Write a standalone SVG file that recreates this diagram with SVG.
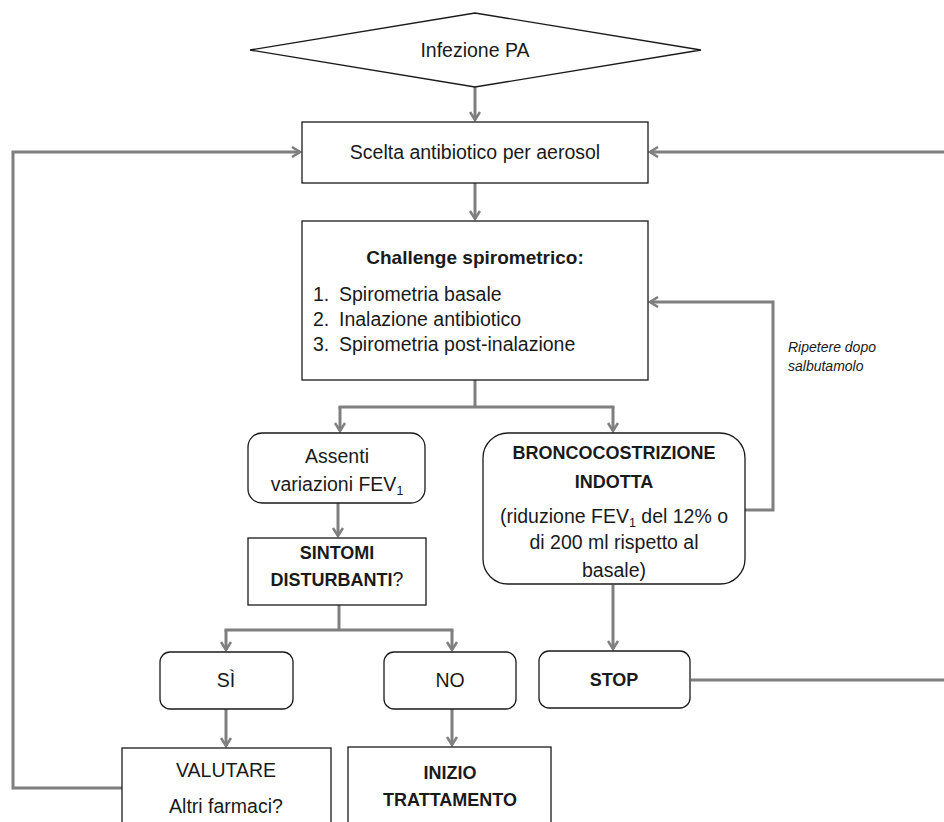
<svg xmlns="http://www.w3.org/2000/svg" width="944" height="822" viewBox="0 0 944 822">
<defs>
<marker id="arr" viewBox="0 0 12 12" refX="10" refY="6" markerWidth="12" markerHeight="12" markerUnits="userSpaceOnUse" orient="auto">
<path d="M2,1 L10,6 L2,11" fill="none" stroke="#7f7f7f" stroke-width="2.5"/>
</marker>
<style>
.box{fill:#fff;stroke:#1a1a1a;stroke-width:1.3}
.con{fill:none;stroke:#7f7f7f;stroke-width:3}
.t{font-family:"Liberation Sans",Arial,sans-serif;font-size:19.5px;fill:#1a1a1a;text-anchor:middle}
.b{font-weight:bold;font-size:18px}
.bb{font-weight:bold;font-size:19px}
.l{text-anchor:start}
.sm{font-family:"Liberation Sans",Arial,sans-serif;font-size:14px;font-style:italic;fill:#1a1a1a}
.sub{font-size:12.5px}
</style>
</defs>
<rect width="944" height="822" fill="#fff"/>
<g id="connectors">
<path class="con" d="M475,87 L475,120" marker-end="url(#arr)"/>
<path class="con" d="M475,183 L475,219" marker-end="url(#arr)"/>
<path class="con" d="M475,380 L475,407"/>
<path class="con" d="M340,407 L340,431" marker-end="url(#arr)"/>
<path class="con" d="M338.5,407 L614.5,407"/>
<path class="con" d="M613,407 L613,431" marker-end="url(#arr)"/>
<path class="con" d="M338,503 L338,536" marker-end="url(#arr)"/>
<path class="con" d="M339,605 L339,630"/>
<path class="con" d="M224.5,630 L453.5,630"/>
<path class="con" d="M226,630 L226,650" marker-end="url(#arr)"/>
<path class="con" d="M452,630 L452,650" marker-end="url(#arr)"/>
<path class="con" d="M226,709 L226,746" marker-end="url(#arr)"/>
<path class="con" d="M452,709 L452,745" marker-end="url(#arr)"/>
<path class="con" d="M613,585 L613,649" marker-end="url(#arr)"/>
<path class="con" d="M745,510 L773,510 L773,302 L650,302" marker-end="url(#arr)"/>
<path class="con" d="M691,680 L960,680 L960,152 L650,152" marker-end="url(#arr)"/>
<path class="con" d="M122,788 L13,788 L13,152 L300,152" marker-end="url(#arr)"/>
<text class="sm" x="788" y="352">Ripetere dopo</text>
<text class="sm" x="788" y="371">salbutamolo</text>
</g>
<g id="infezione">
<polygon class="box" points="250,50 475,13 701,50 475,87"/>
<text class="t" x="475" y="57">Infezione PA</text>
</g>
<g id="scelta">
<rect class="box" x="302" y="122" width="346" height="61"/>
<text class="t" x="475" y="159">Scelta antibiotico per aerosol</text>
</g>
<g id="challenge">
<rect class="box" x="302" y="221" width="346" height="159"/>
<text class="t bb" x="475" y="264">Challenge spirometrico:</text>
<text class="t l" x="313" y="301">1.</text><text class="t l" x="339" y="301">Spirometria basale</text>
<text class="t l" x="313" y="326">2.</text><text class="t l" x="339" y="326">Inalazione antibiotico</text>
<text class="t l" x="313" y="351">3.</text><text class="t l" x="339" y="351">Spirometria post-inalazione</text>
</g>
<g id="assenti">
<rect class="box" x="248" y="433" width="177" height="70" rx="14"/>
<text class="t" x="337" y="463">Assenti</text>
<text class="t" x="337" y="491">variazioni FEV<tspan class="sub" dy="4">1</tspan></text>
</g>
<g id="sintomi">
<rect class="box" x="248" y="538" width="178" height="67"/>
<text class="t b" x="337" y="559">SINTOMI</text>
<text class="t" x="337" y="586"><tspan class="b">DISTURBANTI</tspan>?</text>
</g>
<g id="bronco">
<rect class="box" x="483" y="433" width="262" height="151" rx="25"/>
<text class="t b" x="614" y="459">BRONCOCOSTRIZIONE</text>
<text class="t b" x="614" y="488">INDOTTA</text>
<text class="t" x="614" y="523">(riduzione FEV<tspan class="sub" dy="4">1</tspan><tspan dy="-4"> del 12% o</tspan></text>
<text class="t" x="614" y="549">di 200 ml rispetto al</text>
<text class="t" x="614" y="577">basale)</text>
</g>
<g id="si">
<rect class="box" x="160" y="652" width="133" height="57" rx="10"/>
<text class="t" x="226" y="687">SÌ</text>
</g>
<g id="no">
<rect class="box" x="384" y="652" width="132" height="57" rx="10"/>
<text class="t" x="450" y="687">NO</text>
</g>
<g id="stop">
<rect class="box" x="539" y="651" width="151" height="57" rx="10"/>
<text class="t b" x="614" y="686">STOP</text>
</g>
<g id="valutare">
<rect class="box" x="122" y="748" width="209" height="90"/>
<text class="t" x="226" y="777">VALUTARE</text>
<text class="t" x="226" y="813">Altri farmaci?</text>
</g>
<g id="inizio">
<rect class="box" x="348" y="747" width="203" height="90"/>
<text class="t b" x="450" y="779">INIZIO</text>
<text class="t b" x="450" y="806">TRATTAMENTO</text>
</g>
</svg>
